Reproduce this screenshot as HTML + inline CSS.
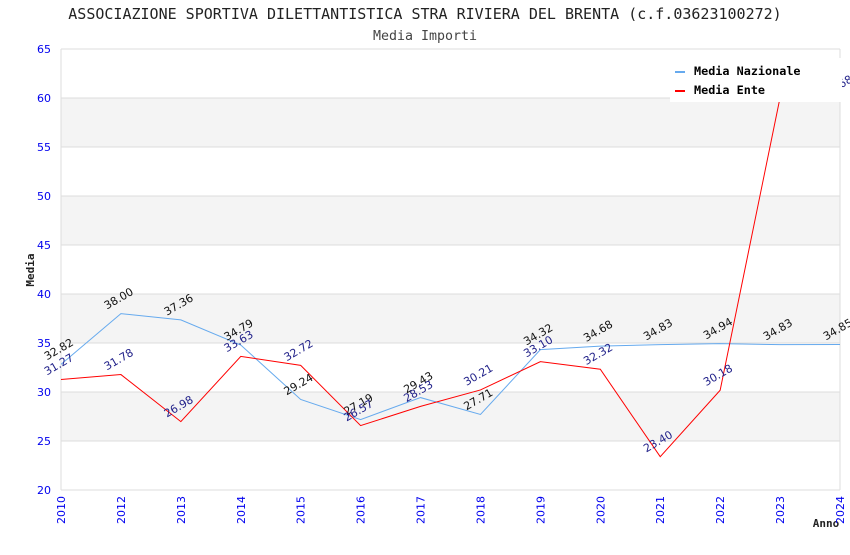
<!DOCTYPE html>
<html><head><meta charset="utf-8"><style>
body{margin:0;background:#fff}
svg text{font-family:"DejaVu Sans","Liberation Sans",sans-serif}
.mono{font-family:"DejaVu Sans Mono","Liberation Mono",monospace}
</style></head><body>
<svg id="c" width="850" height="550" xmlns="http://www.w3.org/2000/svg">
<text class="mono" x="425" y="19" text-anchor="middle" font-size="15" fill="#222">ASSOCIAZIONE SPORTIVA DILETTANTISTICA STRA RIVIERA DEL BRENTA (c.f.03623100272)</text>
<text class="mono" x="425" y="40" text-anchor="middle" font-size="13.3" fill="#444">Media Importi</text>
<text class="mono" x="34" y="270" text-anchor="middle" font-size="11" font-weight="bold" fill="#222" transform="rotate(-90 34 270)">Media</text>
<text class="mono" x="826" y="527" text-anchor="middle" font-size="11" font-weight="bold" fill="#222">Anno</text>
<g id="grid"></g><g id="lines"></g><g id="labels"></g>
<g>
<rect x="670" y="58" width="172" height="44" fill="#fff"/>
<rect x="675" y="71" width="10" height="2" fill="#66aaee"/>
<text class="mono" x="694" y="75" font-size="11.8" font-weight="bold" fill="#000">Media Nazionale</text>
<rect x="675" y="90" width="10" height="2" fill="#ff0000"/>
<text class="mono" x="694" y="94" font-size="11.8" font-weight="bold" fill="#000">Media Ente</text>
</g>
</svg>
<script>
const years=["2010","2012","2013","2014","2015","2016","2017","2018","2019","2020","2021","2022","2023","2024"];
const nazionale=[32.82,38.00,37.36,34.79,29.24,27.19,29.43,27.71,34.32,34.68,34.83,34.94,34.83,34.85];
const ente=[31.27,31.78,26.98,33.63,32.72,26.57,28.53,30.21,33.10,32.32,23.40,30.18,60.05,59.68];
const yTicks=[20,25,30,35,40,45,50,55,60,65];
const NS="http://www.w3.org/2000/svg";
const L=61,R=840,T=49,B=490;
const x=i=>L+i*(R-L)/(years.length-1);
const y=v=>B-(v-20)*(B-T)/45;
function mk(t,a,p){const e=document.createElementNS(NS,t);for(const k in a)e.setAttribute(k,a[k]);p.appendChild(e);return e;}
const g=document.getElementById('grid');
for(let i=0;i<yTicks.length-1;i++){
  if(i%2==1){const r=mk('rect',{x:L,y:y(yTicks[i+1]),width:R-L,height:y(yTicks[i])-y(yTicks[i+1]),fill:'#f4f4f4'},g);
  
  }
}
yTicks.forEach(v=>{
  const l=mk('line',{x1:L,x2:R,y1:y(v),y2:y(v),stroke:'#dddddd'},g);
  
  
  const t=mk('text',{x:L-10,y:y(v)+4,'text-anchor':'end','font-size':11,fill:'#0000ee'},g);t.textContent=v;
  
  
});
mk('line',{x1:L,x2:L,y1:T,y2:B,stroke:'#dddddd'},g);
mk('line',{x1:R,x2:R,y1:T,y2:B,stroke:'#dddddd'},g);
years.forEach((yr,i)=>{
  const t=mk('text',{x:x(i)+4,y:B+6,'text-anchor':'end','font-size':11,fill:'#0000ee',transform:`rotate(-90 ${x(i)+4} ${B+6})`},g);t.textContent=yr;
  
  
});
const ln=document.getElementById('lines'),lb=document.getElementById('labels');
function series(d,col,lc,name){
  const p=mk('polyline',{points:d.map((v,i)=>x(i)+','+y(v)).join(' '),fill:'none',stroke:col,'stroke-width':1},ln);
  
  
  d.forEach((v,i)=>{
    const px=x(i)-14,py=y(v)-4;
    const t=mk('text',{x:px,y:py,'font-size':11,fill:lc,transform:`rotate(-30 ${px} ${py})`},lb);t.textContent=v.toFixed(2);
    
    
  });
}
series(nazionale,'#66aaee','#111','nazionale');
series(ente,'#ff0000','#22228a','ente');
</script>
</body></html>
